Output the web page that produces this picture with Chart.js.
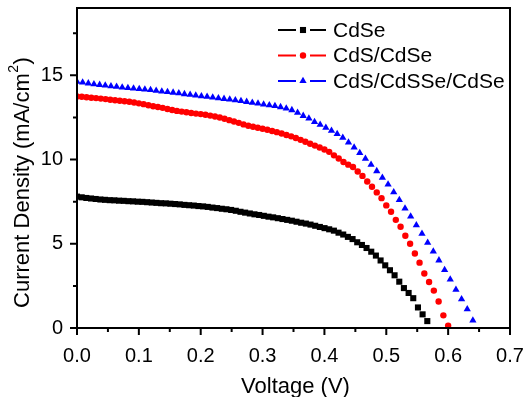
<!DOCTYPE html>
<html><head><meta charset="utf-8">
<script src="https://cdn.jsdelivr.net/npm/chart.js@4/dist/chart.umd.min.js"></script>
<style>html,body{margin:0;padding:0;background:#fff}canvas{display:block}</style>
</head><body>
<canvas id="c" width="526" height="397"></canvas>
<script>
// ---------- data ----------
const seriesNames = ['CdSe', 'CdS/CdSe', 'CdS/CdSSe/CdSe'];

const cdseV = [0, 0.0076, 0.0151, 0.0227, 0.0302, 0.0378, 0.0453, 0.0529, 0.0604, 0.0680,
  0.0755, 0.0831, 0.0906, 0.0982, 0.1057, 0.1133, 0.1208, 0.1284, 0.1359, 0.1435,
  0.1510, 0.1586, 0.1661, 0.1737, 0.1812, 0.1888, 0.1963, 0.2039, 0.2114, 0.2190,
  0.2265, 0.2341, 0.2416, 0.2492, 0.2567, 0.2643, 0.2718, 0.2794, 0.2869, 0.2945,
  0.3020, 0.3096, 0.3171, 0.3247, 0.3322, 0.3398, 0.3473, 0.3549, 0.3624, 0.3700,
  0.3775, 0.3851, 0.3926, 0.4002, 0.4077, 0.4153, 0.4228, 0.4304, 0.4379, 0.4455,
  0.4530, 0.4606, 0.4681, 0.4757, 0.4832, 0.4908, 0.4983, 0.5059, 0.5134, 0.5210,
  0.5285, 0.5361, 0.5436, 0.5512, 0.5587, 0.5663];
const cdseJ = [7.80, 7.76, 7.72, 7.69, 7.66, 7.63, 7.61, 7.59, 7.58, 7.56,
  7.55, 7.53, 7.52, 7.50, 7.49, 7.47, 7.45, 7.43, 7.41, 7.40,
  7.38, 7.36, 7.34, 7.31, 7.29, 7.27, 7.24, 7.22, 7.19, 7.15,
  7.12, 7.08, 7.05, 7.01, 6.96, 6.90, 6.85, 6.80, 6.75, 6.71,
  6.66, 6.61, 6.57, 6.52, 6.47, 6.42, 6.37, 6.31, 6.25, 6.20,
  6.14, 6.07, 6.00, 5.93, 5.86, 5.78, 5.66, 5.55, 5.41, 5.28,
  5.09, 4.93, 4.75, 4.53, 4.30, 4.01, 3.72, 3.43, 3.13, 2.75,
  2.37, 2.08, 1.77, 1.22, 0.81, 0.41];

const cdsCdseV = [0, 0.0077, 0.0154, 0.0231, 0.0308, 0.0385, 0.0462, 0.0538, 0.0615, 0.0692,
  0.0769, 0.0846, 0.0923, 0.1000, 0.1077, 0.1154, 0.1231, 0.1308, 0.1385, 0.1462,
  0.1538, 0.1615, 0.1692, 0.1769, 0.1846, 0.1923, 0.2000, 0.2077, 0.2154, 0.2231,
  0.2308, 0.2385, 0.2462, 0.2538, 0.2615, 0.2692, 0.2769, 0.2846, 0.2923, 0.3000,
  0.3077, 0.3154, 0.3231, 0.3308, 0.3385, 0.3462, 0.3538, 0.3615, 0.3692, 0.3769,
  0.3846, 0.3923, 0.4000, 0.4077, 0.4154, 0.4231, 0.4308, 0.4385, 0.4462, 0.4538,
  0.4615, 0.4692, 0.4769, 0.4846, 0.4923, 0.5000, 0.5077, 0.5154, 0.5231, 0.5308,
  0.5385, 0.5462, 0.5538, 0.5615, 0.5692, 0.5769, 0.5846, 0.5923, 0.6000];
const cdsCdseJ = [13.75, 13.73, 13.70, 13.67, 13.65, 13.62, 13.59, 13.55, 13.52, 13.49,
  13.46, 13.43, 13.39, 13.34, 13.29, 13.23, 13.17, 13.12, 13.07, 13.00,
  12.94, 12.89, 12.85, 12.81, 12.77, 12.73, 12.70, 12.66, 12.61, 12.56,
  12.50, 12.42, 12.34, 12.26, 12.18, 12.09, 12.01, 11.95, 11.89, 11.83,
  11.77, 11.70, 11.63, 11.55, 11.46, 11.38, 11.28, 11.17, 11.06, 10.94,
  10.83, 10.72, 10.60, 10.46, 10.25, 10.06, 9.86, 9.70, 9.56, 9.29,
  9.03, 8.70, 8.39, 8.05, 7.71, 7.28, 6.90, 6.42, 6.01, 5.48,
  5.00, 4.42, 3.88, 3.24, 2.73, 2.22, 1.57, 0.75, 0.14];

const cdsCdsseCdseV = [0, 0.0091, 0.0183, 0.0274, 0.0366, 0.0457, 0.0549, 0.0640, 0.0731, 0.0823,
  0.0914, 0.1006, 0.1097, 0.1189, 0.1280, 0.1371, 0.1463, 0.1554, 0.1646, 0.1737,
  0.1829, 0.1920, 0.2011, 0.2103, 0.2194, 0.2286, 0.2377, 0.2469, 0.2560, 0.2651,
  0.2743, 0.2834, 0.2926, 0.3017, 0.3109, 0.3200, 0.3291, 0.3383, 0.3474, 0.3566,
  0.3657, 0.3749, 0.3840, 0.3931, 0.4023, 0.4114, 0.4206, 0.4297, 0.4389, 0.4480,
  0.4571, 0.4663, 0.4754, 0.4846, 0.4937, 0.5029, 0.5120, 0.5211, 0.5303, 0.5394,
  0.5486, 0.5577, 0.5669, 0.5760, 0.5851, 0.5943, 0.6034, 0.6126, 0.6217, 0.6309,
  0.6400];
const cdsCdsseCdseJ = [14.62, 14.58, 14.53, 14.48, 14.44, 14.40, 14.36, 14.33, 14.29, 14.26,
  14.23, 14.20, 14.16, 14.13, 14.09, 14.05, 14.02, 13.98, 13.94, 13.89,
  13.85, 13.81, 13.77, 13.73, 13.69, 13.65, 13.61, 13.57, 13.53, 13.48,
  13.43, 13.38, 13.33, 13.28, 13.23, 13.18, 13.12, 13.04, 12.94, 12.78,
  12.60, 12.44, 12.24, 12.07, 11.90, 11.72, 11.52, 11.30, 11.02, 10.72,
  10.40, 10.05, 9.70, 9.32, 8.93, 8.52, 8.07, 7.60, 7.10, 6.62,
  6.11, 5.60, 5.07, 4.55, 4.02, 3.45, 2.88, 2.28, 1.71, 1.12,
  0.45];

const xTickValues = [0, 0.1, 0.2, 0.3, 0.4, 0.5, 0.6, 0.7];
const xMinorValues = [0.05, 0.15, 0.25, 0.35, 0.45, 0.55, 0.65];
const yTickValues = [0, 5, 10, 15];
const yMinorValues = [2.5, 7.5, 12.5, 17.5];

const xTitle = 'Voltage (V)';
const yTitleMain = 'Current Density (mA/cm';
const yTitleSup = '2';
const yTitleEnd = ')';

// ---------- chart ----------
const FONT = '"Liberation Sans", Arial, Helvetica, sans-serif';
Chart.defaults.color = '#000';
Chart.defaults.font.family = FONT;

function pts(xs, ys) { return xs.map((v, i) => ({ x: v, y: ys[i] })); }
function noPad(s) { s.paddingTop = 0; s.paddingBottom = 0; s.paddingLeft = 0; s.paddingRight = 0; }

const decor = {
  id: 'decor',
  afterDraw(chart) {
    const ctx = chart.ctx;
    const sx = chart.scales.x, sy = chart.scales.y;
    const L = sx.getPixelForValue(0), R = sx.getPixelForValue(0.7);
    const B = sy.getPixelForValue(0), T = sy.getPixelForValue(19);
    ctx.save();
    ctx.strokeStyle = '#000000';
    ctx.lineWidth = 2;
    ctx.beginPath();
    ctx.rect(L, T, R - L, B - T);
    ctx.stroke();
    // ticks
    ctx.beginPath();
    xTickValues.forEach(v => { const p = sx.getPixelForValue(v); ctx.moveTo(p, B); ctx.lineTo(p, B + 7); });
    xMinorValues.forEach(v => { const p = sx.getPixelForValue(v); ctx.moveTo(p, B); ctx.lineTo(p, B + 4); });
    yTickValues.forEach(v => { const p = sy.getPixelForValue(v); ctx.moveTo(L, p); ctx.lineTo(L - 7, p); });
    yMinorValues.forEach(v => { const p = sy.getPixelForValue(v); ctx.moveTo(L, p); ctx.lineTo(L - 4, p); });
    ctx.stroke();

    // axis titles
    ctx.fillStyle = '#000000';
    ctx.font = '22px ' + FONT;
    ctx.textAlign = 'center';
    ctx.textBaseline = 'middle';
    ctx.fillText(xTitle, (L + R) / 2 + 2, 387);

    ctx.save();
    ctx.translate(23, 183);
    ctx.rotate(-Math.PI / 2);
    ctx.textAlign = 'left';
    ctx.font = '22px ' + FONT;
    const w1 = ctx.measureText(yTitleMain).width;
    const w3 = ctx.measureText(yTitleEnd).width;
    ctx.font = '14px ' + FONT;
    const w2 = ctx.measureText(yTitleSup).width;
    const s0 = -(w1 + w2 + w3) / 2;
    ctx.font = '22px ' + FONT;
    ctx.fillText(yTitleMain, s0, 0);
    ctx.font = '14px ' + FONT;
    ctx.fillText(yTitleSup, s0 + w1 + 0.5, -9);
    ctx.font = '22px ' + FONT;
    ctx.fillText(yTitleEnd, s0 + w1 + w2 + 1, 0);
    ctx.restore();

    // legend
    const rows = [30, 55.5, 81];
    chart.data.datasets.forEach((ds, i) => {
      const yy = rows[i];
      ctx.strokeStyle = ds.backgroundColor;
      ctx.fillStyle = ds.backgroundColor;
      ctx.lineWidth = 2;
      ctx.beginPath();
      ctx.moveTo(278, yy); ctx.lineTo(296, yy);
      ctx.moveTo(310, yy); ctx.lineTo(326, yy);
      ctx.stroke();
      Chart.helpers.drawPoint(ctx, { pointStyle: ds.pointStyle, radius: ds.pointRadius, borderWidth: 0, rotation: 0 }, 303, yy);
      ctx.fillStyle = '#000000';
      ctx.font = '21px ' + FONT;
      ctx.textAlign = 'left';
      ctx.textBaseline = 'middle';
      ctx.fillText(ds.label, 333, yy + 1);
    });
    ctx.restore();
  }
};

new Chart(document.getElementById('c'), {
  type: 'scatter',
  data: {
    datasets: [
      { label: seriesNames[0], data: pts(cdseV, cdseJ), backgroundColor: '#000000', borderColor: '#000000', pointStyle: 'rect', pointRadius: 4.3, borderWidth: 0 },
      { label: seriesNames[1], data: pts(cdsCdseV, cdsCdseJ), backgroundColor: '#ff0000', borderColor: '#ff0000', pointStyle: 'circle', pointRadius: 3.2, borderWidth: 0 },
      { label: seriesNames[2], data: pts(cdsCdsseCdseV, cdsCdsseCdseJ), backgroundColor: '#0000ff', borderColor: '#0000ff', pointStyle: 'triangle', pointRadius: 4.2, borderWidth: 0 }
    ]
  },
  options: {
    responsive: false,
    animation: false,
    devicePixelRatio: 1,
    layout: { padding: { left: 0, right: 16, top: 8, bottom: 0 }, autoPadding: false },
    plugins: { legend: { display: false }, tooltip: { enabled: false } },
    elements: { point: { hoverRadius: 0 } },
    scales: {
      x: {
        type: 'linear', min: 0, max: 0.7,
        afterBuildTicks: s => { s.ticks = xTickValues.map(v => ({ value: v })); },
        afterFit: s => { s.height = 69; noPad(s); },
        ticks: { callback: v => Number(v).toFixed(1), font: { size: 20, family: FONT }, color: '#000', padding: 16, maxRotation: 0, autoSkip: false },
        grid: { display: false, drawTicks: false },
        border: { display: false }
      },
      y: {
        type: 'linear', min: 0, max: 19,
        afterBuildTicks: s => { s.ticks = yTickValues.map(v => ({ value: v })); },
        afterFit: s => { s.width = 77; noPad(s); },
        ticks: { callback: v => String(v), font: { size: 20, family: FONT }, color: '#000', padding: 14, autoSkip: false },
        grid: { display: false, drawTicks: false },
        border: { display: false }
      }
    }
  },
  plugins: [decor]
});
</script>
</body></html>
